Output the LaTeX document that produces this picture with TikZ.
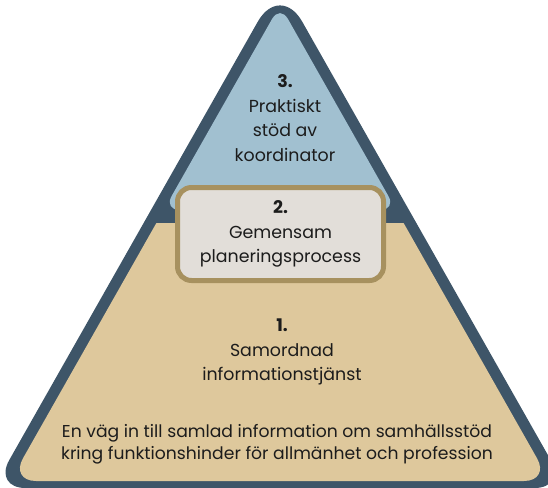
\documentclass[tikz,border=0pt]{standalone}
\usepackage{fontspec}
\setmainfont{Poppins}
\definecolor{frameslate}{HTML}{3E5568}
\definecolor{topblue}{HTML}{A1C0D0}
\definecolor{basetan}{HTML}{DEC89C}
\definecolor{boxgrey}{HTML}{E2DED9}
\definecolor{boxgold}{HTML}{A7915F}
\definecolor{textdark}{HTML}{1C1C1C}

\begin{document}
\begin{tikzpicture}[%
        x = 1pt,
        y = -1pt,
        level text/.style = {align = center, text = textdark, inner sep = 0pt,
            font = \fontsize{17.4}{24.5}\selectfont},
        foot text/.style = {level text, font = \fontsize{17.2}{22}\selectfont},
        planbox/.style = {level text, draw = boxgold, fill = boxgrey,
            line width = 5, rounded corners = 14,
            minimum width = 206, minimum height = 93}
    ]

        \useasboundingbox (0, 0) rectangle (548, 487);

        % Corners of the outer frame and of the two inner areas.
        \coordinate (Otop) at (280, -17.5);
        \coordinate (Oleft) at (-6.6, 488);
        \coordinate (Oright) at (566.6, 488);
        \coordinate (Ttop) at (280, 5);
        \coordinate (Tleft) at (163.7, 210);
        \coordinate (Tright) at (396.3, 210);
        \coordinate (Bleft) at (156.4, 223);
        \coordinate (Bright) at (403.6, 223);
        \coordinate (Bfootl) at (10.1, 481);
        \coordinate (Bfootr) at (549.9, 481);

        % Dark frame of the pyramid.
        \fill[frameslate] (280, 488) [rounded corners = 32] -- (Oright)
            [rounded corners = 45] -- (Otop)
            [rounded corners = 32] -- (Oleft) -- cycle;

        % Blue top and tan base.
        \fill[topblue, rounded corners = 16] (Ttop) -- (Tright) -- (Tleft) -- cycle;
        \fill[basetan] (Bleft) -- (Bright)
            [rounded corners = 26] -- (Bfootr) -- (Bfootl)
            [sharp corners] -- cycle;

        % Level 3 text.
        \node[level text] (coord) at (285, 118)
            {{\bfseries 3.}\\Praktiskt\\stöd av\\koordinator};

        % Level 2 box.
        \node[planbox] (plan) at (280.5, 234)
            {{\bfseries 2.}\\Gemensam\\planeringsprocess};

        % Level 1 text.
        \node[level text] (info) at (282, 352)
            {{\bfseries 1.}\\Samordnad\\informationstjänst};
        \node[foot text] (entry) at (277, 444)
            {En väg in till samlad information om samhällsstöd\\kring funktionshinder för allmänhet och profession};
    \end{tikzpicture}
\end{document}
